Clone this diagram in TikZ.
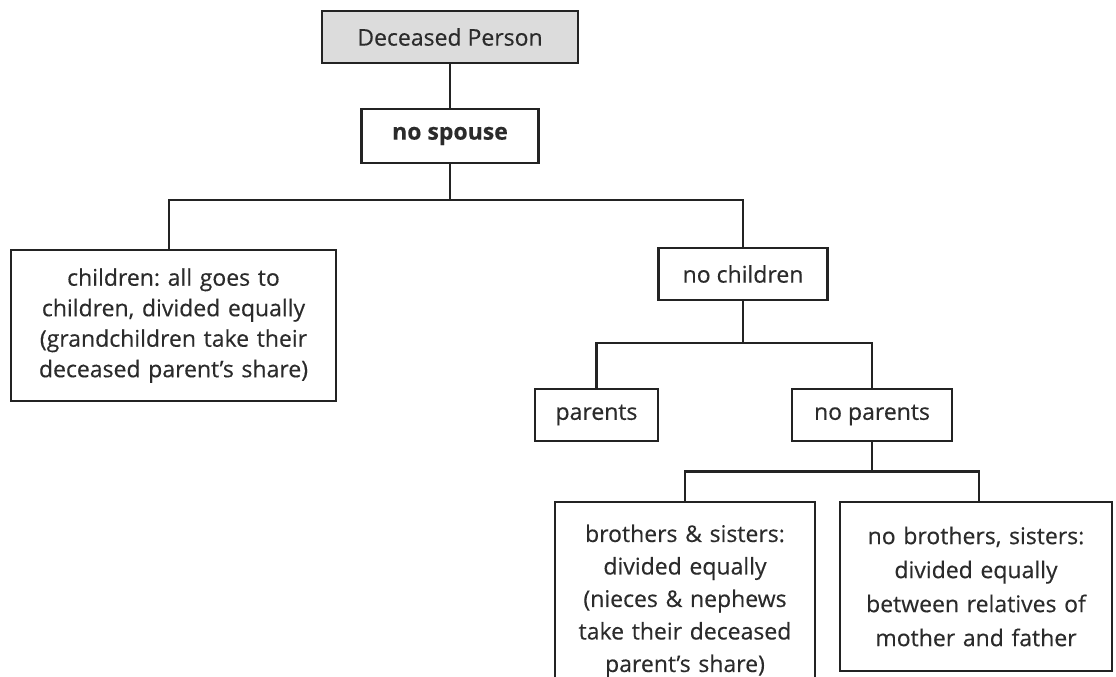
\documentclass[tikz,border=0pt]{standalone}
\usepackage{fontspec}
\setmainfont{Open Sans}[FakeBold=0.3]
\frenchspacing
\definecolor{txt}{HTML}{2B2B2B}
\definecolor{ln}{HTML}{232323}
\definecolor{graybox}{HTML}{DCDCDC}
\begin{document}
\begin{tikzpicture}[x=1pt,y=1pt,
  box/.style={draw=ln, line width=2.7pt, fill=white, inner sep=0pt, align=center, text=txt,
    font=\fontsize{23}{30.5}\selectfont},
  conn/.style={draw=ln, line width=2.7pt}]
\useasboundingbox (0,0) rectangle (1116,-677);
\clip (0,0) rectangle (1116,-677);
\node[box, fill=graybox, minimum width=256pt, minimum height=52pt] (dec) at (450,-37) {Deceased Person};
\node[box, minimum width=177pt, minimum height=54pt, font=\fontsize{23}{30.5}\selectfont\bfseries] (spouse) at (450,-136) {no spouse};
\node[box, minimum width=325pt, minimum height=151pt, text width=320pt] (children) at (173.5,-325.5)
  {children: all goes to\\children, divided equally\\(grandchildren take their\\deceased parent’s share)};
\node[box, minimum width=169pt, minimum height=52pt] (nochild) at (743,-274) {no children};
\node[box, minimum width=123pt, minimum height=52pt] (parents) at (596.5,-415) {parents};
\node[box, minimum width=160pt, minimum height=52pt] (nopar) at (872,-415) {no parents};
\node[box, minimum width=260pt, minimum height=198pt, text width=255pt,
  font=\fontsize{23}{32.5}\selectfont] (bro) at (685,-601)
  {brothers \& sisters:\\divided equally\\(nieces \& nephews\\take their deceased\\parent’s share)};
\node[box, minimum width=272pt, minimum height=169pt, text width=265pt,
  font=\fontsize{23}{34}\selectfont] (nobro) at (976,-586.5)
  {no brothers, sisters:\\divided equally\\between relatives of\\mother and father};
\coordinate (b1) at (450,-200);
\coordinate (b2) at (743,-343);
\coordinate (b3) at (872,-471.5);
\draw[conn] (dec.south) -- (spouse.north);
\draw[conn] (spouse.south) -- (b1);
\draw[conn] ([xshift=-4.5pt]children.north) |- (b1) -| (nochild.north);
\draw[conn] (nochild.south) -- (b2);
\draw[conn] (parents.north) |- (b2) -| (nopar.north);
\draw[conn] (nopar.south) -- (b3);
\draw[conn] (bro.north) |- (b3) -| ([xshift=3pt]nobro.north);
\end{tikzpicture}
\end{document}
